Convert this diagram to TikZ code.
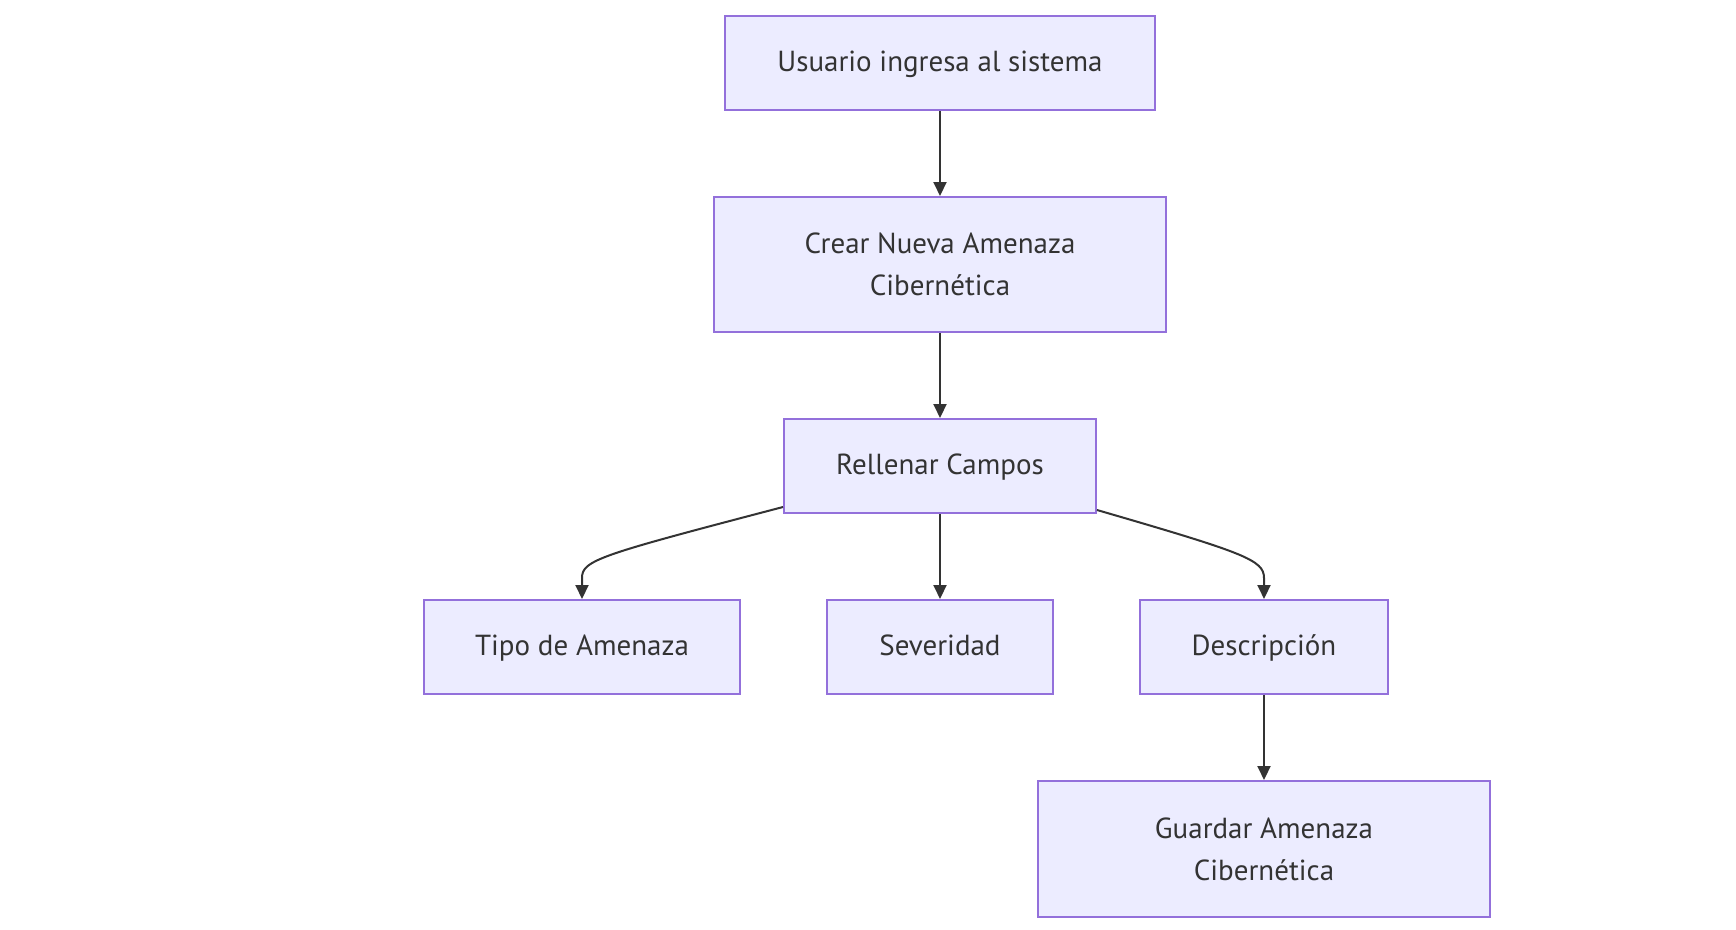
\documentclass[tikz,border=0pt]{standalone}
\usepackage{fontspec}
\setmainfont{PT Sans}
\usetikzlibrary{arrows.meta,calc}
\definecolor{nodefill}{HTML}{ECECFF}
\definecolor{nodeline}{HTML}{9370DB}
\definecolor{edgeline}{HTML}{333333}
\definecolor{textcol}{HTML}{333333}
\tikzset{
  box/.style={draw=nodeline, fill=nodefill, line width=2pt, rectangle, inner sep=0pt,
    text=textcol, font=\fontsize{29}{42}\selectfont, align=center},
  oneline/.style={box, text height=24pt, text depth=6.6pt},
  edge/.style={draw=edgeline, line width=2pt, -{Triangle[length=14pt,width=13pt]}}
}
\begin{document}
\begin{tikzpicture}[x=1pt,y=-1pt]
\useasboundingbox (0,0) rectangle (1736,929);
\node[oneline, minimum width=430pt, minimum height=94pt] (user) at (940,63) {Usuario ingresa al sistema};
\node[box, minimum width=452pt, minimum height=135pt] (crear) at (940,264.5) {Crear Nueva Amenaza\\Cibernética};
\node[oneline, minimum width=312pt, minimum height=94pt] (rell) at (940,466) {Rellenar Campos};
\node[oneline, minimum width=316pt, minimum height=94pt] (tipo) at (582,647) {Tipo de Amenaza};
\node[oneline, minimum width=226pt, minimum height=94pt] (sev) at (940,647) {Severidad};
\node[oneline, minimum width=248pt, minimum height=94pt] (desc) at (1264,647) {Descripción};
\node[box, minimum width=452pt, minimum height=136pt] (guard) at (1264,849) {Guardar Amenaza\\Cibernética};
\coordinate (rl) at ($(rell.south west)+(0,-7)$);
\coordinate (rr) at ($(rell.south east)+(0,-4)$);
\draw[edge] (user) -- (crear);
\draw[edge] (crear) -- (rell);
\draw[edge] (rell) -- (sev);
\draw[edge] (rl) .. controls (600,555) and (582,560) .. (582,578) -- (tipo.north);
\draw[edge] (rr) .. controls (1245,553) and (1264,560) .. (1264,578) -- (desc.north);
\draw[edge] (desc) -- (guard);
\end{tikzpicture}
\end{document}
